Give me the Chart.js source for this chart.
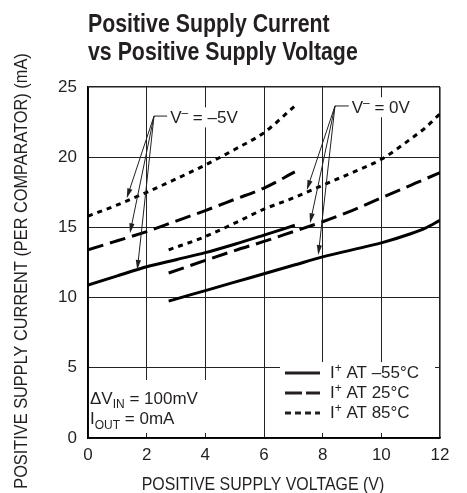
<!DOCTYPE html>
<html>
<head>
<meta charset="utf-8">
<script src="https://cdn.jsdelivr.net/npm/chart.js@4.4.1/dist/chart.umd.min.js"></script>
<style>
  html, body { margin: 0; padding: 0; background: #fff; }
  #wrap { width: 467px; height: 493px; }
</style>
</head>
<body>
<div id="wrap"><canvas id="supplyChart" width="467" height="493"></canvas></div>
<script>
const FONT = "'Liberation Sans', Arial, sans-serif";
const INK = '#231f20';

const xTicks = [0, 2, 4, 6, 8, 10, 12];
const yTicks = [0, 5, 10, 15, 20, 25];

// V- = -5V (supply voltage in V, current in mA)
const voltsNeg5 = [0, 1, 2, 3, 4, 5, 6, 7.05];
const coldNeg5 = [10.9, 11.55, 12.2, 12.7, 13.2, 13.8, 14.45, 15.15];
const roomNeg5 = [13.4, 14.05, 14.7, 15.45, 16.2, 17.0, 17.8, 18.95];
const hotNeg5 = [15.8, 16.6, 17.5, 18.45, 19.45, 20.55, 21.75, 23.65];

// V- = 0V
const volts0 = [2.75, 4, 5, 6, 7, 8, 9, 10, 11, 11.5, 12];
const cold0 = [9.75, 10.5, 11.1, 11.7, 12.3, 12.9, 13.4, 13.9, 14.55, 14.95, 15.5];
const room0 = [11.75, 12.65, 13.35, 14.0, 14.7, 15.4, 16.2, 17.1, 18.0, 18.45, 18.9];
const hot0 = [13.4, 14.35, 15.3, 16.3, 17.1, 18.0, 18.9, 19.85, 21.3, 22.1, 23.1];

const legendLabels = ['–55°C', '25°C', '85°C'];
const dashes = [[], [16, 7], [5, 5]];

const pts = (xs, ys) => xs.map((x, i) => ({ x: x, y: ys[i] }));

function curve(xs, ys, k) {
    return {
        data: pts(xs, ys),
        borderColor: '#000',
        borderWidth: 3,
        borderDash: dashes[k],
        borderCapStyle: 'butt',
        pointRadius: 0,
        fill: false,
        cubicInterpolationMode: 'monotone'
    };
}

function partFont(p, size, weight) {
    const s = (p.sub || p.sup) ? Math.round(size * 0.72) : size;
    return (weight || '') + ' ' + s + 'px ' + FONT;
}

function richWidth(ctx, parts, size, sx, weight) {
    let w = 0;
    parts.forEach(p => { ctx.font = partFont(p, size, weight); w += ctx.measureText(p.t).width; });
    return w * sx;
}

// text pieces with sub/superscripts, optionally squeezed to look condensed
function drawRich(ctx, x, y, parts, size, sx, weight) {
    ctx.save();
    ctx.translate(x, y);
    ctx.scale(sx, 1);
    let cx = 0;
    parts.forEach(p => {
        ctx.font = partFont(p, size, weight);
        const dy = p.sub ? size * 0.28 : p.sup ? -size * 0.38 : 0;
        ctx.fillText(p.t, cx, dy);
        cx += ctx.measureText(p.t).width;
    });
    ctx.restore();
    return x + cx * sx;
}

function arrow(ctx, x0, y0, x1, y1) {
    const a = Math.atan2(y1 - y0, x1 - x0);
    const len = 10, hw = 2.6;
    ctx.beginPath();
    ctx.moveTo(x0, y0);
    ctx.lineTo(x1 - Math.cos(a) * len * 0.8, y1 - Math.sin(a) * len * 0.8);
    ctx.stroke();
    ctx.beginPath();
    ctx.moveTo(x1, y1);
    ctx.lineTo(x1 - Math.cos(a) * len - Math.sin(a) * hw, y1 - Math.sin(a) * len + Math.cos(a) * hw);
    ctx.lineTo(x1 - Math.cos(a) * len + Math.sin(a) * hw, y1 - Math.sin(a) * len - Math.cos(a) * hw);
    ctx.closePath();
    ctx.fill();
}

// callouts: origin, text start/baseline and arrow tips, in data units
const callouts = [
    { label: '–5V', origin: [2.25, 22.93], textAt: [2.80, 22.41], tips: [[1.32, 17.07], [1.43, 14.58], [1.68, 11.97]] },
    { label: '0V', origin: [8.42, 23.65], textAt: [8.99, 23.13], tips: [[7.46, 17.66], [7.57, 15.29], [7.85, 13.03]] }
];

const notesPlugin = {
    id: 'notes',
    beforeDatasetsDraw(chart) {
        const { ctx, chartArea: a } = chart;
        ctx.save();
        ctx.fillStyle = '#fff';
        ctx.fillRect(a.right - 160, a.bottom - 76, 155, 71);
        ctx.fillRect(a.left + 1, a.bottom - 58, 121, 53);
        ctx.restore();
    },
    afterDatasetsDraw(chart) {
        const { ctx, chartArea: a, scales: { x, y } } = chart;
        ctx.save();
        ctx.fillStyle = INK;
        ctx.strokeStyle = INK;
        ctx.textBaseline = 'alphabetic';
        ctx.textAlign = 'left';

        // title
        drawRich(ctx, a.left, 32, [{ t: 'Positive Supply Current' }], 26, 0.82, 'bold');
        drawRich(ctx, a.left, 60, [{ t: 'vs Positive Supply Voltage' }], 26, 0.82, 'bold');

        // axis titles
        ctx.save();
        ctx.textAlign = 'center';
        ctx.textBaseline = 'middle';
        ctx.translate(22, 271);
        ctx.rotate(-Math.PI / 2);
        ctx.scale(0.86, 1);
        ctx.font = '19px ' + FONT;
        ctx.fillText('POSITIVE SUPPLY CURRENT (PER COMPARATOR) (mA)', 0, 0);
        ctx.restore();

        ctx.save();
        ctx.textAlign = 'center';
        ctx.textBaseline = 'middle';
        ctx.translate((a.left + a.right) / 2 - 1, 485);
        ctx.scale(0.885, 1);
        ctx.font = '18px ' + FONT;
        ctx.fillText('POSITIVE SUPPLY VOLTAGE (V)', 0, 0);
        ctx.restore();

        // callouts
        callouts.forEach(c => {
            const ox = x.getPixelForValue(c.origin[0]), oy = y.getPixelForValue(c.origin[1]);
            const tx = x.getPixelForValue(c.textAt[0]), ty = y.getPixelForValue(c.textAt[1]);
            const parts = [{ t: 'V' }, { t: '–', sup: true }, { t: ' = ' + c.label }];
            ctx.fillStyle = '#fff';
            ctx.fillRect(tx - 2, ty - 16, richWidth(ctx, parts, 17, 1) + 4, 20);
            ctx.fillStyle = INK;
            drawRich(ctx, tx, ty, parts, 17, 1);
            ctx.lineWidth = 1;
            ctx.beginPath();
            ctx.moveTo(ox, oy);
            ctx.lineTo(tx - 3, oy);
            ctx.stroke();
            c.tips.forEach(t => arrow(ctx, ox, oy, x.getPixelForValue(t[0]), y.getPixelForValue(t[1])));
        });

        // test conditions
        drawRich(ctx, a.left + 2, a.bottom - 34.5, [{ t: 'ΔV' }, { t: 'IN', sub: true }, { t: ' = 100mV' }], 17, 1);
        drawRich(ctx, a.left + 2, a.bottom - 14, [{ t: 'I' }, { t: 'OUT', sub: true }, { t: ' = 0mA' }], 17, 1);

        // legend
        legendLabels.forEach((lab, i) => {
            const by = a.bottom - 60 + i * 20;
            ctx.lineWidth = 3;
            ctx.setLineDash(i === 0 ? [] : i === 1 ? [17, 4] : [6, 4]);
            ctx.beginPath();
            ctx.moveTo(a.right - 155, by - 5);
            ctx.lineTo(a.right - 120, by - 5);
            ctx.stroke();
            ctx.setLineDash([]);
            drawRich(ctx, a.right - 110, by, [{ t: 'I' }, { t: '+', sup: true }, { t: ' AT ' + lab }], 17, 1);
        });
        ctx.restore();
    }
};

const ctx = document.getElementById('supplyChart').getContext('2d');

const supplyChart = new Chart(ctx, {
    type: 'line',
    data: {
        datasets: [
            curve(voltsNeg5, coldNeg5, 0),
            curve(voltsNeg5, roomNeg5, 1),
            curve(voltsNeg5, hotNeg5, 2),
            curve(volts0, cold0, 0),
            curve(volts0, room0, 1),
            curve(volts0, hot0, 2)
        ]
    },
    options: {
        responsive: false,
        animation: false,
        layout: { padding: { top: 87, right: 27, left: 0, bottom: 0 } },
        plugins: { legend: { display: false }, tooltip: { enabled: false } },
        scales: {
            x: {
                type: 'linear',
                min: 0,
                max: 12,
                afterBuildTicks: s => { s.ticks = xTicks.map(v => ({ value: v })); },
                afterFit: s => { s.height = 55; },
                ticks: { color: INK, padding: 7, font: { family: FONT, size: 17 } },
                grid: {
                    color: '#222',
                    drawTicks: false,
                    lineWidth: c => (c.tick && c.tick.value === 12 ? 1.6 : 1)
                },
                border: { color: '#000', width: 1.6 }
            },
            y: {
                type: 'linear',
                min: 0,
                max: 25,
                afterBuildTicks: s => { s.ticks = yTicks.map(v => ({ value: v })); },
                afterFit: s => { s.width = 88; },
                ticks: { color: INK, padding: 11, font: { family: FONT, size: 17 } },
                grid: {
                    color: '#222',
                    drawTicks: false,
                    lineWidth: c => (c.tick && c.tick.value === 25 ? 1.6 : 1)
                },
                border: { color: '#000', width: 1.6 }
            }
        }
    },
    plugins: [notesPlugin]
});
</script>
</body>
</html>
